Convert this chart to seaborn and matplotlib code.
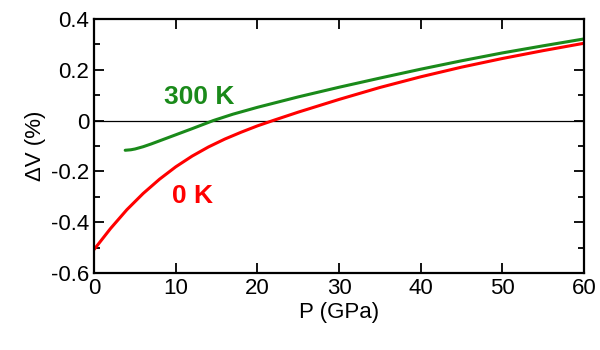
import numpy as np
import pandas as pd
import matplotlib
matplotlib.use("Agg")
import matplotlib.pyplot as plt
import seaborn as sns
from matplotlib.ticker import MultipleLocator, FuncFormatter

# 0 K curve
p_0k = [0, 2, 4, 6, 8, 10, 12, 14, 16, 18, 20, 22, 25, 30, 35, 40, 45, 50, 55, 60]
dv_0k = [-0.507, -0.425, -0.351, -0.287, -0.231, -0.182, -0.140, -0.104, -0.073, -0.046,
         -0.021, 0.001, 0.033, 0.083, 0.13, 0.172, 0.21, 0.244, 0.275, 0.304]

# 300 K curve
p_300k = [3.8, 4.5, 5, 6, 7, 8, 10, 12, 14.6, 17, 20, 25, 30, 35, 40, 45, 50, 55, 60]
dv_300k = [-0.117, -0.115, -0.112, -0.103, -0.092, -0.080, -0.056, -0.032, 0.0, 0.025,
           0.052, 0.093, 0.131, 0.167, 0.202, 0.235, 0.266, 0.294, 0.321]

green = '#1a8a1a'
red = '#ff0000'

sns.set_style("ticks")
plt.rcParams['font.family'] = ['Liberation Sans', 'DejaVu Sans']

fig = plt.figure(figsize=(6, 3.5), dpi=100)
ax = fig.add_axes([0.157, 0.22, 0.816, 0.726])

ax.axhline(0, color='black', lw=0.9, zorder=1)
sns.lineplot(x=p_300k, y=dv_300k, color=green, lw=2.2, ax=ax)
sns.lineplot(x=p_0k, y=dv_0k, color=red, lw=2.2, ax=ax)

ax.text(12.9, 0.091, "300 K", color=green, fontsize=19, fontweight='bold', ha='center', va='center')
ax.text(12.0, -0.297, "0 K", color=red, fontsize=19, fontweight='bold', ha='center', va='center')

ax.set_xlim(0, 60)
ax.set_ylim(-0.6, 0.4)
ax.xaxis.set_major_locator(MultipleLocator(10))
ax.yaxis.set_major_locator(MultipleLocator(0.2))
ax.yaxis.set_minor_locator(MultipleLocator(0.1))
ax.yaxis.set_major_formatter(FuncFormatter(lambda v, pos: f"{round(v, 1):g}"))

ax.tick_params(which='both', direction='in', top=True, right=True, width=1.3,
               labelsize=16, color='black', labelcolor='black')
ax.tick_params(which='major', length=7)
ax.tick_params(which='minor', length=4)
for s in ax.spines.values():
    s.set_linewidth(1.6)
    s.set_color('black')

ax.set_xlabel("P (GPa)", fontsize=16, labelpad=2, color='black')
ax.set_ylabel("ΔV (%)", fontsize=16, labelpad=4, color='black')

fig.savefig("out.png", dpi=100)
